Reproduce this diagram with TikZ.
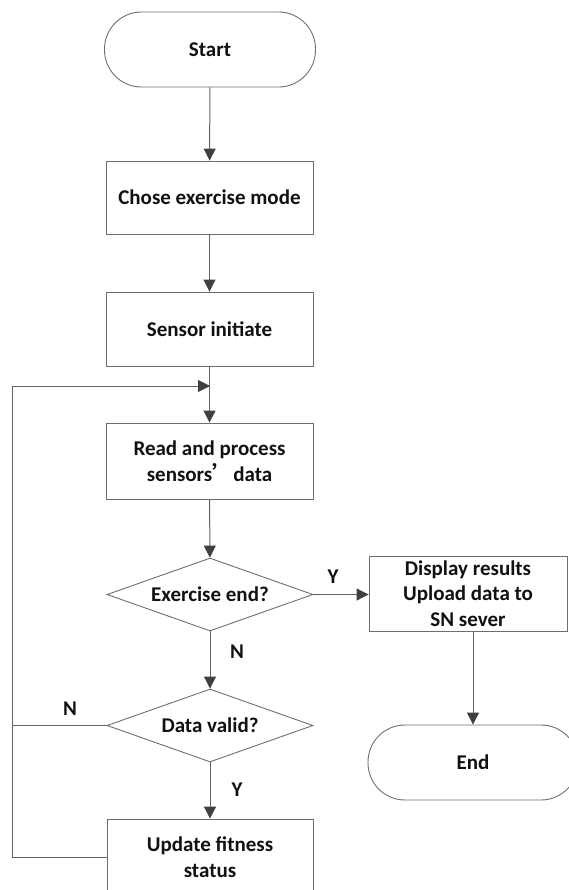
\documentclass[tikz,border=0pt]{standalone}
\usepackage{fontspec}
\setmainfont{Carlito}
\newfontfamily\cjk{Noto Sans CJK SC}
\usetikzlibrary{arrows.meta,shapes.geometric}
\definecolor{linec}{HTML}{636363}
\definecolor{tipc}{HTML}{404040}
\definecolor{boxc}{HTML}{6E6E6E}
\definecolor{txtc}{HTML}{111111}
\begin{document}
\begin{tikzpicture}[x=1pt,y=-1pt,
  every node/.style={font=\fontsize{21}{25.5}\selectfont\bfseries, text=txtc},
  procbox/.style={draw=boxc, line width=0.9pt, rectangle, inner sep=0pt, align=center},
  term/.style={draw=boxc, line width=0.9pt, rectangle, rounded corners=37pt, inner sep=0pt},
  decision/.style={draw=boxc, line width=0.9pt, diamond, aspect=2.82, inner sep=0pt, minimum width=206pt, minimum height=73pt},
  arr/.style={draw=linec, line width=1pt, -{Triangle[length=12pt,width=12pt,color=tipc]}},
  plain/.style={draw=linec, line width=1pt},
  lbl/.style={inner sep=0pt}
]
\useasboundingbox (0,0) rectangle (568,890);

\node[term, minimum width=211pt, minimum height=75pt] (start) at (210,49.5) {Start};
\node[procbox, minimum width=207pt, minimum height=73pt] (chose) at (209.5,197.5) {Chose exercise mode};
\node[procbox, minimum width=207pt, minimum height=74pt] (sensor) at (209.5,329) {Sensor initiate};
\node[procbox, minimum width=207pt, minimum height=76pt] (read) at (209.5,461) {Read and process\\sensors{\cjk ’}data};
\node[decision] (exend) at (210,594.5) {Exercise end?};
\node[decision] (valid) at (210,725.5) {Data valid?};
\node[procbox, minimum width=206pt, minimum height=76pt] (update) at (210,857) {Update fitness\\status};
\node[procbox, minimum width=198pt, minimum height=75pt] (disp) at (468,593.5) {Display results\\Upload data to\\SN sever};
\node[term, minimum width=210pt, minimum height=75pt] (end) at (473,762.5) {End};

\coordinate (lj) at (210,386);
\coordinate (loopx) at (12.5,386);

\draw[arr] (start) -- (chose);
\draw[arr] (chose) -- (sensor);
\draw[arr] (sensor) -- (read);
\draw[arr] (read) -- (exend);
\draw[arr] (exend) -- (valid);
\draw[arr] (valid) -- (update);
\draw[arr] (exend.east) -- (disp.west |- exend.east);
\draw[arr] (disp.south -| end.north) -- (end.north);
\draw[arr] (update.west) -| (loopx) -- (lj);
\draw[plain] (valid.west) -- (valid.west -| loopx);

\node[lbl] (ly1) at (333,577) {Y};
\node[lbl] (ln1) at (237,652) {N};
\node[lbl] (ln2) at (70,709) {N};
\node[lbl] (ly2) at (237,790) {Y};
\end{tikzpicture}
\end{document}
